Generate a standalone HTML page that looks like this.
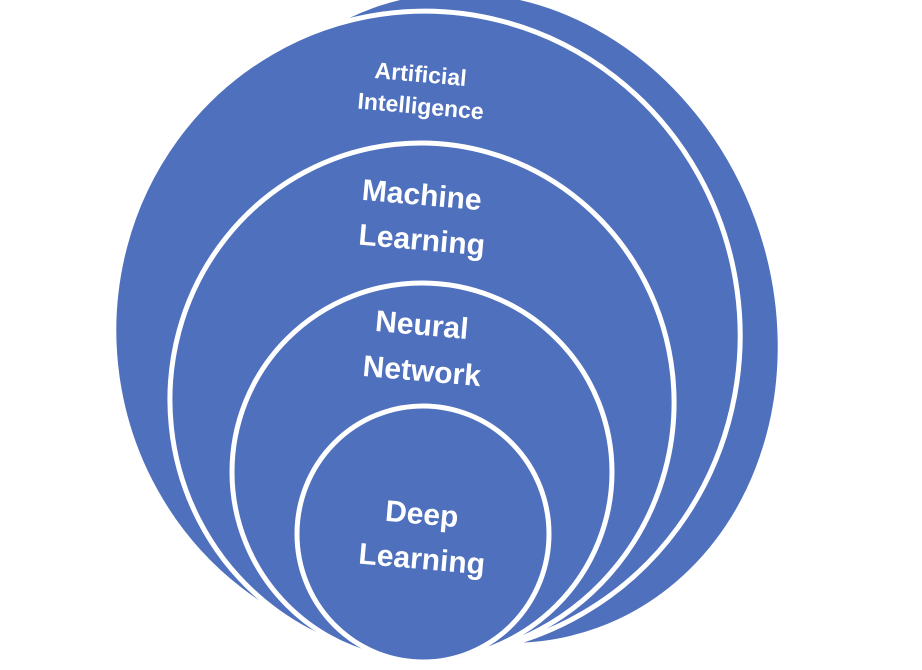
<!DOCTYPE html>
<html><head><style>
html,body{margin:0;padding:0;background:#fff;width:922px;height:670px;overflow:hidden}
svg{display:block}
text{font-family:"Liberation Sans",sans-serif;fill:#fff;font-weight:bold}
</style></head><body>
<svg width="922" height="670" viewBox="0 0 922 670">
<g fill="#4f70bd" stroke="#fff" stroke-width="5">
<ellipse cx="485" cy="318" rx="290" ry="332" transform="rotate(-20 485 318)"/>
<ellipse cx="427" cy="333" rx="313" ry="322" transform="rotate(-8 427 333)"/>
<ellipse cx="422" cy="401" rx="252" ry="258" transform="rotate(-6 422 401)"/>
<ellipse cx="422" cy="472" rx="190" ry="189"/>
<ellipse cx="423" cy="534" rx="126" ry="128"/>
</g>
<g text-anchor="middle">
<text x="420" y="82" font-size="23" transform="rotate(5 420 82)">Artificial</text>
<text x="420" y="114" font-size="23" transform="rotate(5 420 114)">Intelligence</text>
<text x="421" y="205" font-size="30" transform="rotate(5 421 205)">Machine</text>
<text x="421" y="250" font-size="30" transform="rotate(5 421 250)">Learning</text>
<text x="421" y="335" font-size="30" transform="rotate(5 421 335)">Neural</text>
<text x="421" y="381" font-size="30" transform="rotate(5 421 381)">Network</text>
<text x="421" y="524" font-size="30" transform="rotate(5 421 524)">Deep</text>
<text x="421" y="569" font-size="30" transform="rotate(5 421 569)">Learning</text>
</g>
</svg>
</body></html>
